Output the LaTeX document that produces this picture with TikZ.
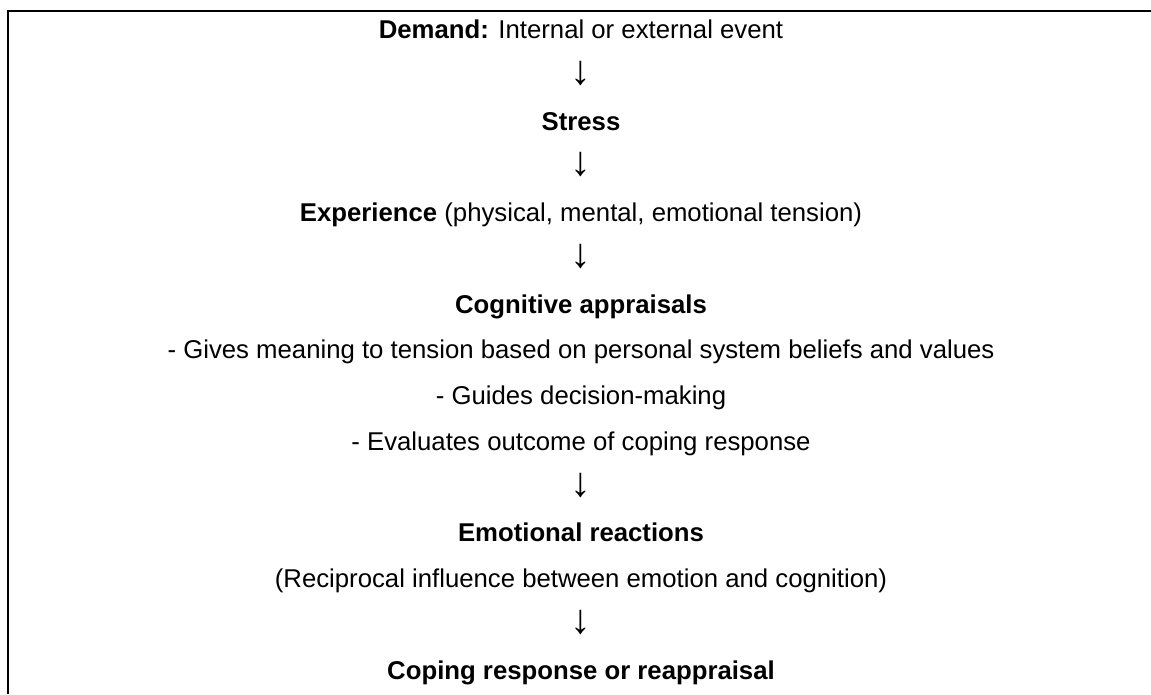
\documentclass[tikz,border=0pt]{standalone}
\usepackage{fontspec}
\setmainfont{Liberation Sans}
\usetikzlibrary{positioning}

\tikzset{
  flowtext/.style={anchor=base, inner sep=0pt, font=\fontsize{19.3}{23}\selectfont},
  flowarrow/.style={anchor=base, inner sep=0pt, font=\fontsize{31}{36}\selectfont},
  frameline/.style={line width=1.9pt, black},
}

\begin{document}
\begin{tikzpicture}[x=0.75pt, y=-0.75pt]
        \useasboundingbox (0,0) rectangle (1151,694);

        % Frame (left and top edges)
        \draw[frameline] (8,694) -- (8,11) -- (1151,11);

        % Demand and stress
        \node[flowtext] (demand) at (581,38.5) {\textbf{Demand:} Internal or external event};
        \node[flowarrow] (arrowA) at (581,84.25) {↓};
        \node[flowtext] (stress) at (581,130) {\textbf{Stress}};
        \node[flowarrow] (arrowB) at (581,175.75) {↓};
        \node[flowtext] (experience) at (581,221.5) {\textbf{Experience} (physical, mental, emotional tension)};
        \node[flowarrow] (arrowC) at (581,267.25) {↓};

        % Cognitive appraisals
        \node[flowtext] (appraisal) at (581,313) {\textbf{Cognitive appraisals}};
        \node[flowtext] (meaning) at (581,358.75) {- Gives meaning to tension based on personal system beliefs and values};
        \node[flowtext] (decision) at (581,404.5) {- Guides decision-making};
        \node[flowtext] (outcome) at (581,450.25) {- Evaluates outcome of coping response};
        \node[flowarrow] (arrowD) at (581,496) {↓};

        % Emotional reactions and coping
        \node[flowtext] (emotion) at (581,541.75) {\textbf{Emotional reactions}};
        \node[flowtext] (reciprocal) at (581,587.5) {(Reciprocal influence between emotion and cognition)};
        \node[flowarrow] (arrowE) at (581,633.25) {↓};
        \node[flowtext] (coping) at (581,679) {\textbf{Coping response or reappraisal}};
\end{tikzpicture}
\end{document}
